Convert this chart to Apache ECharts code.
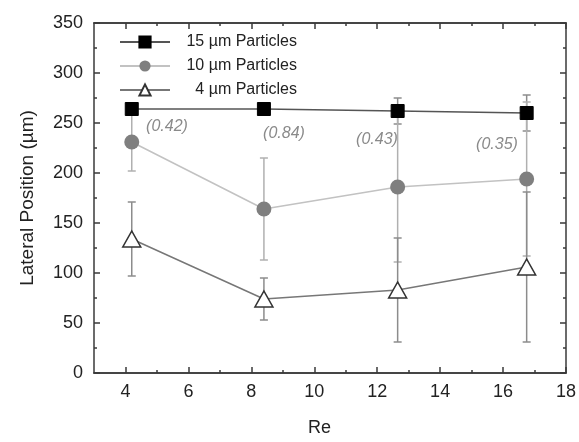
<!DOCTYPE html>
<html>
<head>
<meta charset="utf-8">
<script src="https://cdn.jsdelivr.net/npm/echarts@6/dist/echarts.min.js"></script>
<style>
html,body{margin:0;padding:0;background:#fff;}
#c{width:579px;height:442px;}
</style>
</head>
<body>
<div id="c"></div>
<script>
// ---- data ----
var re = [4.2, 8.4, 12.65, 16.75];
var p15 = [264, 264, 262, 260];
var p15err = [6, 5, 13, 18];
var p10 = [231, 164, 186, 194];
var p10err = [29, 51, 75, 77];
var p4 = [134, 74, 83, 106];
var p4err = [37, 21, 52, 75];
var seriesNames = ['15 \u00b5m Particles', '10 \u00b5m Particles', '4 \u00b5m Particles'];
var xMajor = [4, 6, 8, 10, 12, 14, 16, 18];
var xMinor = [5, 7, 9, 11, 13, 15, 17];
var annotations = ['(0.42)', '(0.84)', '(0.43)', '(0.35)'];

var FONT = '"Liberation Sans", Arial, sans-serif';
var AX = '#3a3a3a';

function pts(ys){ return re.map(function(x,i){ return [x, ys[i]]; }); }
function errData(ys, es){ return re.map(function(x,i){ return [x, ys[i]-es[i], ys[i]+es[i]]; }); }
function errSeries(ys, es, color){
  return {
    type: 'custom', xAxisIndex: 0, yAxisIndex: 0, z: 1, silent: true,
    data: errData(ys, es),
    renderItem: function(params, api){
      var lo = api.coord([api.value(0), api.value(1)]);
      var hi = api.coord([api.value(0), api.value(2)]);
      var w = 4;
      var st = {stroke: color, lineWidth: 1.5};
      return {type: 'group', children: [
        {type: 'line', shape: {x1: lo[0], y1: lo[1], x2: hi[0], y2: hi[1]}, style: st},
        {type: 'line', shape: {x1: lo[0]-w, y1: lo[1], x2: lo[0]+w, y2: lo[1]}, style: st},
        {type: 'line', shape: {x1: hi[0]-w, y1: hi[1], x2: hi[0]+w, y2: hi[1]}, style: st}
      ]};
    }
  };
}

var annPos = [[167,127],[284,134],[377,140],[497,145]];

var baseX = {
  type: 'value', min: 3, max: 18,
  splitLine: {show: false},
  axisLine: {show: true, onZero: false, lineStyle: {color: AX, width: 1.5}}
};
function xAx(pos, major, labels){
  return Object.assign({}, baseX, {
    position: pos,
    axisTick: {show: true, inside: true, length: major ? 6 : 3, customValues: major ? xMajor : xMinor, lineStyle: {color: AX, width: 1.5}},
    axisLabel: labels ? {show: true, customValues: xMajor, margin: 10, fontSize: 18, color: '#222', fontFamily: FONT} : {show: false},
    name: labels ? 'Re' : '',
    nameLocation: 'middle', nameGap: 46,
    nameTextStyle: {fontSize: 18, color: '#222', fontFamily: FONT, padding: [0, 21, 0, 0]}
  });
}
function yAx(pos, labels){
  return {
    type: 'value', min: 0, max: 350, interval: 50, position: pos,
    splitLine: {show: false},
    axisLine: {show: true, onZero: false, lineStyle: {color: AX, width: 1.5}},
    axisTick: {show: true, inside: true, length: 6, lineStyle: {color: AX, width: 1.5}},
    minorTick: {show: true, splitNumber: 2, length: 3, lineStyle: {color: AX, width: 1.5}},
    axisLabel: labels ? {show: true, margin: 11, fontSize: 18, color: '#222', fontFamily: FONT} : {show: false},
    name: labels ? 'Lateral Position (\u00b5m)' : '',
    nameLocation: 'middle', nameGap: 57,
    nameTextStyle: {fontSize: 19, color: '#222', fontFamily: FONT}
  };
}

var chart = echarts.init(document.getElementById('c'), null, {renderer: 'canvas'});
chart.setOption({
  animation: false,
  backgroundColor: '#fff',
  grid: {left: 94, right: 7, top: 23, bottom: 67, containLabel: false},
  xAxis: [xAx('bottom', true, true), xAx('bottom', false, false), xAx('top', true, false), xAx('top', false, false)],
  yAxis: [yAx('left', true), yAx('right', false)],
  legend: {
    orient: 'vertical', left: 119, top: 34, padding: 0,
    itemWidth: 50, itemHeight: 14, itemGap: 8,
    data: seriesNames,
    formatter: function(n){ return '{a|' + n + '}'; },
    textStyle: {fontSize: 16, color: '#222', fontFamily: FONT,
      rich: {a: {fontSize: 16, fontFamily: FONT, color: '#222', width: 122, align: 'right'}}}
  },
  series: [
    errSeries(p15, p15err, '#8c8c8c'),
    errSeries(p10, p10err, '#b0b0b0'),
    errSeries(p4, p4err, '#8c8c8c'),
    {
      name: seriesNames[0], type: 'line', z: 3, data: pts(p15),
      symbol: 'rect', symbolSize: 13,
      itemStyle: {color: '#000', borderColor: '#000', borderWidth: 1},
      lineStyle: {color: '#555', width: 1.5}
    },
    {
      name: seriesNames[1], type: 'line', z: 3, data: pts(p10),
      symbol: 'circle', symbolSize: 15,
      itemStyle: {color: '#7f7f7f', borderColor: '#7f7f7f', borderWidth: 0},
      lineStyle: {color: '#c2c2c2', width: 1.5}
    },
    {
      name: seriesNames[2], type: 'line', z: 3, data: pts(p4),
      symbol: 'triangle', symbolSize: [18, 16],
      itemStyle: {color: '#fff', borderColor: '#333', borderWidth: 1.5},
      lineStyle: {color: '#777', width: 1.5}
    }
  ],
  graphic: annotations.map(function(t, i){
    return {type: 'text', x: annPos[i][0], y: annPos[i][1], z: 10,
      style: {text: t, fill: '#8a8a8a', font: 'italic 16px ' + FONT, textAlign: 'center', textVerticalAlign: 'middle'}};
  })
});
</script>
</body>
</html>
